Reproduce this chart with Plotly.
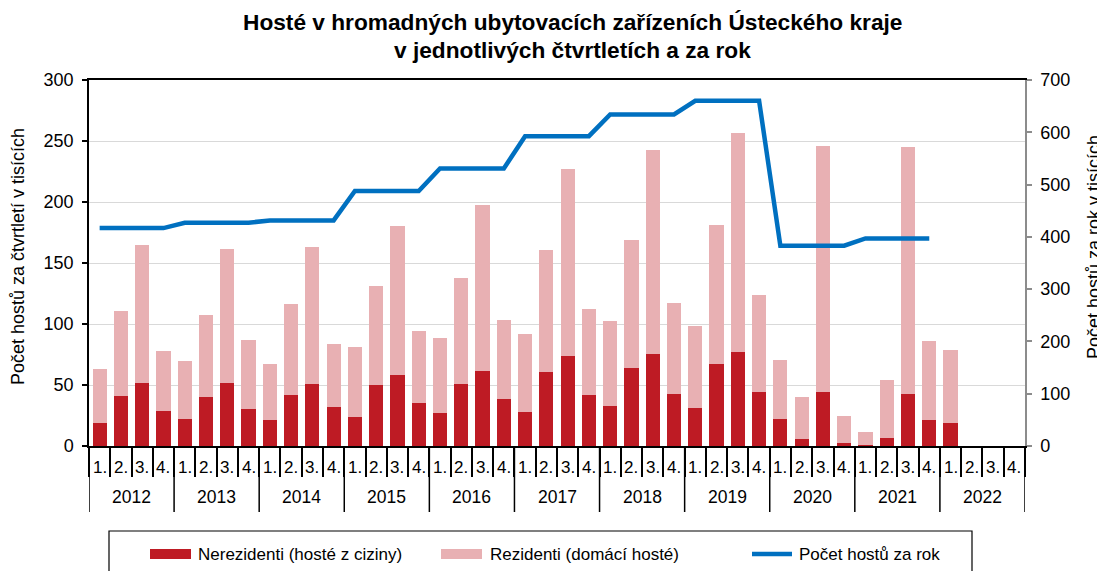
import plotly.graph_objects as go

# ---------------- data ----------------
years = ["2012", "2013", "2014", "2015", "2016", "2017", "2018", "2019", "2020", "2021", "2022"]
quarters = ["1.", "2.", "3.", "4."]

nerezidenti = [19.2, 41.0, 51.8, 29.0,
               22.2, 40.3, 51.8, 30.7,
               21.4, 42.2, 51.0, 32.0,
               23.8, 49.9, 58.4, 35.3,
               27.1, 51.2, 61.6, 38.4,
               27.9, 60.8, 73.7, 41.6,
               32.6, 64.1, 75.3, 42.7,
               31.5, 67.4, 77.3, 44.4,
               22.5, 5.5, 44.4, 2.5,
               0.8, 6.6, 43.0, 21.1,
               19.2, None, None, None]

rezidenti = [43.8, 69.4, 112.6, 48.5,
             47.4, 67.4, 109.6, 55.9,
             45.7, 74.0, 112.0, 51.6,
             57.0, 81.3, 121.6, 58.7,
             61.4, 86.6, 135.7, 65.2,
             64.2, 99.7, 153.1, 70.7,
             69.6, 104.9, 167.7, 74.6,
             67.1, 113.7, 178.9, 79.2,
             48.2, 34.5, 201.9, 22.4,
             10.4, 47.4, 201.7, 64.7,
             59.7, None, None, None]

rocni_pocet = [416.8, 427.0, 431.5, 487.7, 530.7, 592.6, 634.2, 660.3, 383.0, 397.0]

title_lines = ["Hosté v hromadných ubytovacích zařízeních Ústeckého kraje",
               "v jednotlivých čtvrtletích a za rok"]

# ---------------- styling ----------------
OFF = 8  # page body margin in the browser
W, H = 1105 - OFF, 571 - OFF
L, R, T, B = 89 - OFF, 1025 - OFF, 80 - OFF, 446 - OFF
FONT = "Liberation Sans, Arial, sans-serif"
C_NEREZ = "#BE1B24"
C_REZ = "#E8B0B3"
C_LINE = "#0070C0"


def px2x(px):
    """reference page pixel (x) -> paper fraction"""
    return (px - OFF - L) / (R - L)


def py2y(py):
    """reference page pixel (y) -> paper fraction"""
    return (B - (py - OFF)) / (B - T)


n = len(years) * len(quarters)
xs = list(range(n))

# line positions: each year's total across its 4 quarters
line_x, line_y = [], []
for i, v in enumerate(rocni_pocet):
    for q in range(len(quarters)):
        line_x.append(i * len(quarters) + q)
        line_y.append(v)

fig = go.Figure()
fig.add_trace(go.Bar(x=xs, y=nerezidenti, marker=dict(color=C_NEREZ, line=dict(width=0)),
                     name="Nerezidenti (hosté z ciziny)"))
fig.add_trace(go.Bar(x=xs, y=rezidenti, marker=dict(color=C_REZ, line=dict(width=0)),
                     name="Rezidenti (domácí hosté)"))
fig.add_trace(go.Scatter(x=line_x, y=line_y, yaxis="y2", mode="lines",
                         line=dict(color=C_LINE, width=4.5), name="Počet hostů za rok"))

annotations = []
# title
for yy, txt in zip([22, 50], title_lines):
    annotations.append(dict(x=px2x(572), xref="paper", y=py2y(yy), yref="paper",
                            text="<b>" + txt + "</b>", showarrow=False,
                            xanchor="center", yanchor="middle",
                            font=dict(size=22.7, color="black", family=FONT)))
# quarter labels
for i in range(n):
    annotations.append(dict(x=i, xref="x", y=py2y(467), yref="paper", text=quarters[i % 4],
                            showarrow=False, xanchor="center", yanchor="middle",
                            font=dict(size=17, color="black", family=FONT)))
# year labels
for k, yr in enumerate(years):
    annotations.append(dict(x=k * 4 + 1.5, xref="x", y=py2y(497), yref="paper", text=yr,
                            showarrow=False, xanchor="center", yanchor="middle",
                            font=dict(size=17.5, color="black", family=FONT)))
# axis titles
annotations.append(dict(x=px2x(18), xref="paper", y=py2y(257), yref="paper",
                        text="Počet hostů za čtvrtletí v tisících", textangle=-90,
                        showarrow=False, xanchor="center", yanchor="middle",
                        font=dict(size=18, color="black", family=FONT)))
annotations.append(dict(x=px2x(1094), xref="paper", y=py2y(247), yref="paper",
                        text="Počet hostů za rok v tisících", textangle=-90,
                        showarrow=False, xanchor="center", yanchor="middle",
                        font=dict(size=18, color="black", family=FONT)))
# legend texts
leg_y = py2y(554)
for xt, txt in [(196, "Nerezidenti (hosté z ciziny)"), (488, "Rezidenti (domácí hosté)"),
                (797, "Počet hostů za rok")]:
    annotations.append(dict(x=px2x(xt), xref="paper", y=leg_y, yref="paper", text=txt,
                            showarrow=False, xanchor="left", yanchor="middle",
                            font=dict(size=17, color="black", family=FONT)))

shapes = []
# year dividers
for k in range(len(years) + 1):
    shapes.append(dict(type="line", xref="x", yref="paper", x0=k * 4 - 0.5, x1=k * 4 - 0.5,
                       y0=0, y1=py2y(512), line=dict(color="black", width=1.5)))
# legend box and swatches
shapes.append(dict(type="rect", xref="paper", yref="paper", x0=px2x(109), x1=px2x(972),
                   y0=py2y(531), y1=py2y(600), line=dict(color="black", width=1.2)))
shapes.append(dict(type="rect", xref="paper", yref="paper", x0=px2x(150), x1=px2x(191),
                   y0=py2y(549), y1=py2y(559), line=dict(width=0), fillcolor=C_NEREZ))
shapes.append(dict(type="rect", xref="paper", yref="paper", x0=px2x(441), x1=px2x(482),
                   y0=py2y(549), y1=py2y(559), line=dict(width=0), fillcolor=C_REZ))
shapes.append(dict(type="line", xref="paper", yref="paper", x0=px2x(752), x1=px2x(792),
                   y0=leg_y, y1=leg_y, line=dict(color=C_LINE, width=4.5)))

fig.update_layout(
    width=W, height=H,
    margin=dict(l=L, r=W - R, t=T, b=H - B),
    barmode="stack", bargap=0.33,
    plot_bgcolor="white", paper_bgcolor="white",
    showlegend=False,
    font=dict(family=FONT, size=17, color="black"),
    xaxis=dict(range=[-0.5, n - 0.5], tickmode="array", tickvals=[i - 0.5 for i in range(n + 1)],
               showticklabels=False, ticks="outside", ticklen=29, tickwidth=1.5, tickcolor="black",
               showline=True, linecolor="black", linewidth=1.5, mirror=True, showgrid=False,
               zeroline=False, fixedrange=True),
    yaxis=dict(range=[0, 300], dtick=50, tick0=0, showgrid=True, gridcolor="#D9D9D9", gridwidth=1,
               showline=True, linecolor="black", linewidth=1.5, ticks="outside", ticklen=5,
               tickcolor="black", tickwidth=1.5, zeroline=False, ticklabelstandoff=5,
               tickfont=dict(size=18, family=FONT, color="black")),
    yaxis2=dict(range=[0, 700], dtick=100, tick0=0, overlaying="y", side="right", showgrid=False,
                showline=True, linecolor="#8C8C8C", linewidth=1.5, ticks="outside", ticklen=5,
                tickcolor="#8C8C8C", tickwidth=1.5, zeroline=False, ticklabelstandoff=5,
                tickfont=dict(size=18, family=FONT, color="black")),
    annotations=annotations,
    shapes=shapes,
)

fig.write_html("out.html")
